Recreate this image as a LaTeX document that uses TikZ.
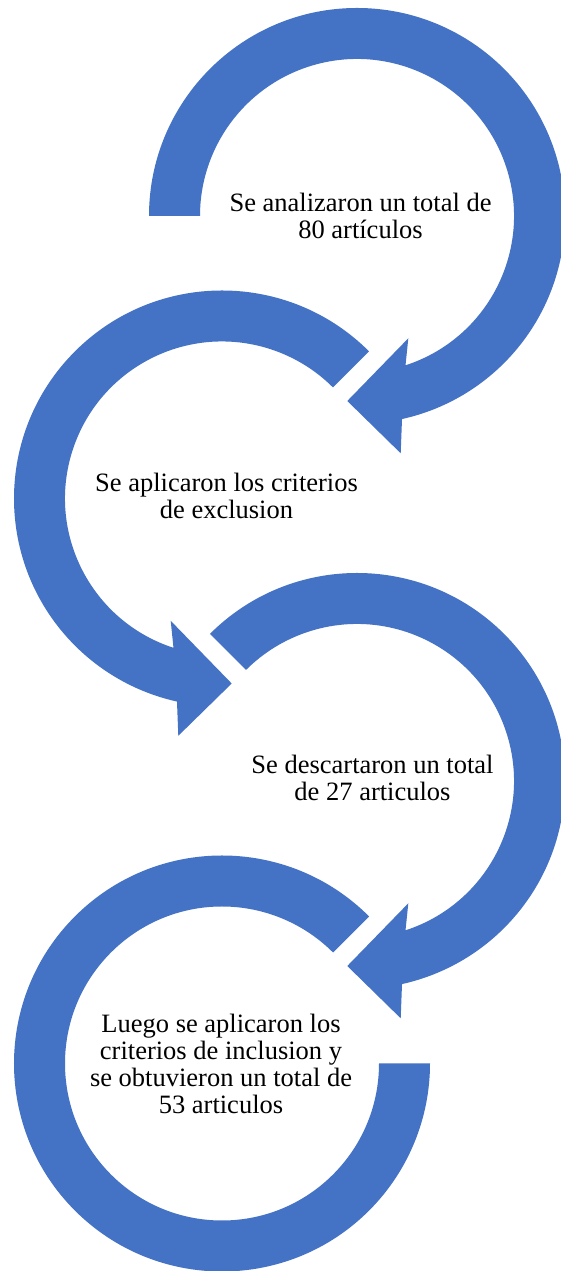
\documentclass[tikz,border=0pt]{standalone}
\usepackage{fontspec}
\setmainfont{Liberation Serif}
\definecolor{sablue}{HTML}{4472C4}
\begin{document}
\begin{tikzpicture}[x=1pt,y=1pt,
  ringarrow/.style={fill=sablue,draw=none},
  steptext/.style={anchor=base,inner sep=0pt,font=\fontsize{26.5}{27}\selectfont}]
\useasboundingbox (0,0) rectangle (560,1271);
\fill[white] (0,0) rectangle (560,1271);
% centres
\coordinate (C1) at (357,1055);
\coordinate (C2) at (222,772.5);
\coordinate (C3) at (357,490);
\coordinate (C4) at (222,207.5);
% arrow 1 (clockwise, tail at 180)
\fill[ringarrow] ([shift={(C1)}]180:208) arc[start angle=180,end angle=-77.5,radius=208pt]
  -- ([shift={(C1)}]43.7,-237.3) -- ([shift={(C1)}]-9.7,-185) -- ([shift={(C1)}]51.3,-122.3)
  -- ([shift={(C1)}]-72:157) arc[start angle=-72,end angle=180,radius=157pt] -- cycle;
% arrow 2 (counter-clockwise, tail at 45)
\fill[ringarrow] ([shift={(C2)}]45:208) arc[start angle=45,end angle=257.5,radius=208pt]
  -- ([shift={(C2)}]-43.7,-237.3) -- ([shift={(C2)}]9.7,-185) -- ([shift={(C2)}]-51.3,-122.3)
  -- ([shift={(C2)}]252:157) arc[start angle=252,end angle=45,radius=157pt] -- cycle;
% arrow 3 (clockwise, tail at 135)
\fill[ringarrow] ([shift={(C3)}]135:208) arc[start angle=135,end angle=-77.5,radius=208pt]
  -- ([shift={(C3)}]43.7,-237.3) -- ([shift={(C3)}]-9.7,-185) -- ([shift={(C3)}]51.3,-122.3)
  -- ([shift={(C3)}]-72:157) arc[start angle=-72,end angle=135,radius=157pt] -- cycle;
% ring 4
\fill[ringarrow] ([shift={(C4)}]45:208) arc[start angle=45,end angle=360,radius=208pt]
  -- ([shift={(C4)}]0:157) arc[start angle=360,end angle=45,radius=157pt] -- cycle;
% texts
\node[steptext] (t1) at (360.5,1059.3) {\begin{tabular}[t]{@{}c@{}}Se analizaron un total de\\80 artículos\end{tabular}};
\node[steptext] (t2) at (226.5,779.3) {\begin{tabular}[t]{@{}c@{}}Se aplicaron los criterios\\de exclusion\end{tabular}};
\node[steptext] (t3) at (372.5,497.7) {\begin{tabular}[t]{@{}c@{}}Se descartaron un total\\de 27 articulos\end{tabular}};
\node[steptext] (t4) at (221,238.3) {\begin{tabular}[t]{@{}c@{}}Luego se aplicaron los\\criterios de inclusion y\\se obtuvieron un total de\\53 articulos\end{tabular}};
\end{tikzpicture}
\end{document}
